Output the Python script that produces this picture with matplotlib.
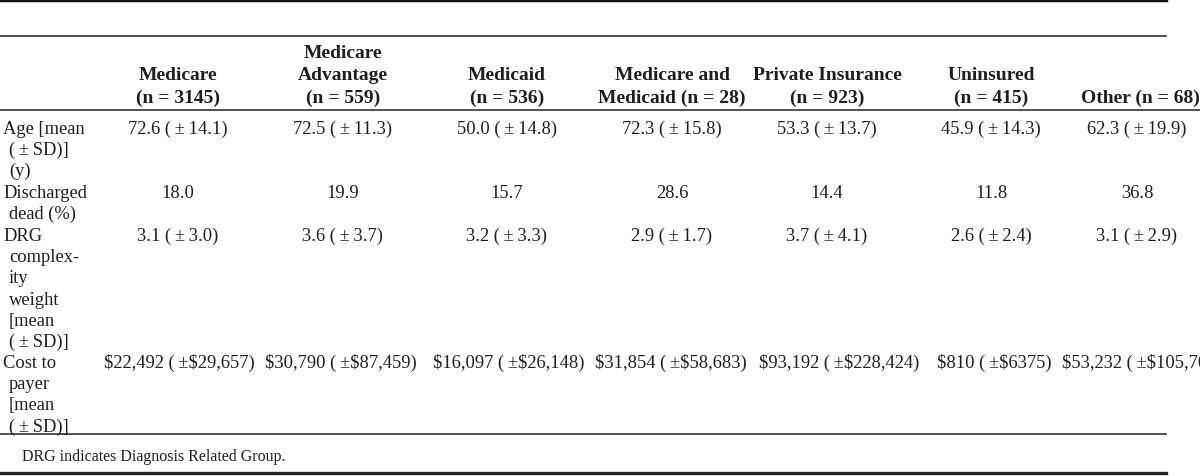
import matplotlib.pyplot as plt
from matplotlib.lines import Line2D

# ---- table data ----
payers = ["Medicare", "Medicare Advantage", "Medicaid", "Medicare and Medicaid",
          "Private Insurance", "Uninsured", "Other"]
counts = [3145, 559, 536, 28, 923, 415, 68]
# how each header is broken into lines ("{n}" is the count part)
header_lines = [
    ["Medicare", "(n = {n})"],
    ["Medicare", "Advantage", "(n = {n})"],
    ["Medicaid", "(n = {n})"],
    ["Medicare and", "Medicaid (n = {n})"],
    ["Private Insurance", "(n = {n})"],
    ["Uninsured", "(n = {n})"],
    ["Other (n = {n})"],
]

age_mean = [72.6, 72.5, 50.0, 72.3, 53.3, 45.9, 62.3]
age_sd = [14.1, 11.3, 14.8, 15.8, 13.7, 14.3, 19.9]
dead_pct = [18.0, 19.9, 15.7, 28.6, 14.4, 11.8, 36.8]
drg_mean = [3.1, 3.6, 3.2, 2.9, 3.7, 2.6, 3.1]
drg_sd = [3.0, 3.7, 3.3, 1.7, 4.1, 2.4, 2.9]
cost_mean = [22492, 30790, 16097, 31854, 93192, 810, 53232]
cost_sd = [29657, 87459, 26148, 58683, 228424, 6375, 105700]

TS = "\u2009"  # thin space
row_labels = [
    ["Age [mean", f"({TS}\u00b1{TS}SD)]", "(y)"],
    ["Discharged", "dead (%)"],
    ["DRG", "complex-", "ity", "weight", "[mean", f"({TS}\u00b1{TS}SD)]"],
    ["Cost to", "payer", "[mean", f"({TS}\u00b1{TS}SD)]"],
]
footnote = "DRG indicates Diagnosis Related Group."


def money(v):
    return f"${v:,}" if v >= 10000 else f"${v}"


def pm(m, s, gap=TS):
    return f"{m} ({TS}\u00b1{gap}{s})"


rows = [
    [pm(f"{m:.1f}", f"{s:.1f}") for m, s in zip(age_mean, age_sd)],
    [f"{d:.1f}" for d in dead_pct],
    [pm(f"{m:.1f}", f"{s:.1f}") for m, s in zip(drg_mean, drg_sd)],
    [pm(money(m), money(s), gap="") for m, s in zip(cost_mean, cost_sd)],
]

# ---- layout (pixels, origin top-left) ----
W, H = 1200, 477
fig = plt.figure(figsize=(W / 100, H / 100), dpi=100)
plt.rcParams['font.family'] = ['Liberation Serif', 'DejaVu Serif']

col_x = [178, 343, 507, 672, 827, 991, 1137]
cost_x = [179, 341, 509, 671, 839, 994, 1062]
row_y = [128, 192, 235, 362]
line_h = 21.2
fs = 13.3
ink = '#1e1e1e'


def fx(x):
    return x / W


def fy(y):
    return 1 - y / H


def put(x, y, s, **kw):
    # y is the visual centre of the text line; shift to baseline
    fig.text(fx(x), fy(y + 6), s, va='baseline', fontsize=kw.pop('fontsize', fs),
             color=ink, parse_math=False, **kw)


def hline(y, x0, x1, lw, color='#333333'):
    fig.add_artist(Line2D([fx(x0), fx(x1)], [fy(y), fy(y)], lw=lw, color=color,
                          transform=fig.transFigure))


# rules
hline(1, 0, 1166, 3.2, '#111111')
hline(37, 0, 1166, 1.2)
hline(111, 0, 1200, 1.2)
hline(435, 0, 1166, 1.2)
hline(474, 0, 1166, 2.4, '#222222')

# headers, bottom-aligned
for x, lines, n in zip(col_x, header_lines, counts):
    k = len(lines)
    for i, ln in enumerate(lines):
        y = 97 - (k - 1 - i) * 22.5
        txt = ln.format(n=n)
        if len(lines) == 1:
            put(1081, y, txt, ha='left', fontweight='bold', fontsize=14)
        else:
            put(x, y, txt, ha='center', fontweight='bold', fontsize=14)

# row labels with hanging indent
for y0, lines in zip(row_y, row_labels):
    for i, ln in enumerate(lines):
        put(3 if i == 0 else 9, y0 + i * line_h, ln, ha='left')

# values
for r, (y0, vals) in enumerate(zip(row_y, rows)):
    for c, v in enumerate(vals):
        if r == 3:
            put(cost_x[c], y0, v, ha='left' if c == 6 else 'center')
        else:
            put(col_x[c], y0, v, ha='center')

put(22, 455, footnote, ha='left', fontsize=11.5)

fig.savefig('out.png', dpi=100)
